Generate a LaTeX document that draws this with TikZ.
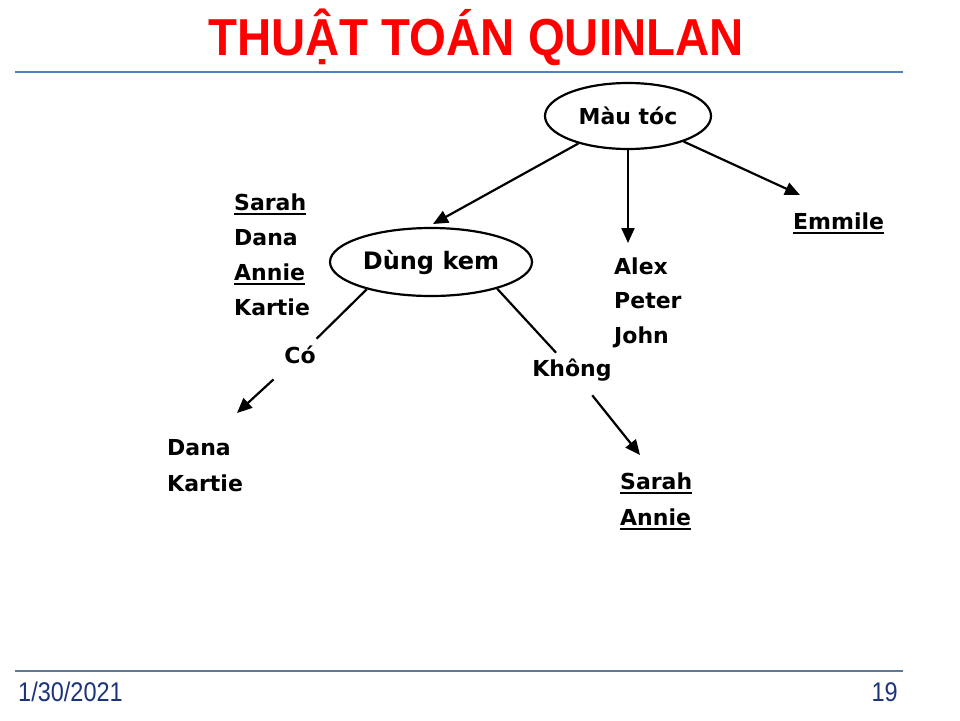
\documentclass[tikz,border=0pt]{standalone}
\usepackage{fontspec}
\setmainfont{Liberation Sans}
\newfontfamily\dejab{DejaVu Sans}[BoldFont={DejaVu Sans Bold}]
\usetikzlibrary{arrows.meta,shapes.geometric}
\definecolor{titlered}{RGB}{255,0,0}
\definecolor{topline}{RGB}{79,129,189}
\definecolor{botline}{RGB}{92,122,152}
\definecolor{footblue}{RGB}{28,52,122}
\tikzset{
  treetext/.style={font=\dejab\bfseries\fontsize{22}{26}\selectfont, inner sep=0pt},
  namenode/.style={treetext, anchor=base west},
  oval/.style={ellipse, draw, line width=2.2pt, treetext},
  conn/.style={line width=2.2pt},
  arr/.style={line width=2.2pt, -{Triangle[length=15pt,width=13pt]}},
  ul/.style={line width=2pt},
  rule/.style={line width=2.6pt},
}
\begin{document}
\begin{tikzpicture}[x=1pt,y=-1pt]
\useasboundingbox[fill=white] (0,0) rectangle (960,720);
% title
\node[text=titlered, font=\bfseries\fontsize{52}{60}\selectfont, inner sep=0pt] (title) at (476,37) {\scalebox{0.91}[1]{THUẬT TOÁN QUINLAN}};
\draw[rule, topline] (15,72) -- (903,72);
\draw[line width=2pt, botline] (15,671) -- (903,671);
\node[text=footblue, font=\fontsize{27}{30}\selectfont, inner sep=0pt, anchor=west] (date) at (18,692) {\scalebox{0.87}[1]{1/30/2021}};
\node[text=footblue, font=\fontsize{27}{30}\selectfont, inner sep=0pt, anchor=east] (page) at (898,692) {\scalebox{0.87}[1]{19}};

% ellipses
\node[oval, minimum width=166pt, minimum height=66pt] (mt) at (628,116) {Màu tóc};
\node[oval, minimum width=202pt, minimum height=68pt, font=\dejab\bfseries\fontsize{24}{28}\selectfont] (dk) at (431,262) {Dùng kem};

% left list
\node[namenode] (s1) at (234,210) {Sarah};
\node[namenode] (d1) at (234,245) {Dana};
\node[namenode] (a1) at (234,280) {Annie};
\node[namenode] (k1) at (234,315) {Kartie};
% centre list
\node[namenode] (al) at (614,274) {Alex};
\node[namenode] (pe) at (614,308) {Peter};
\node[namenode] (jo) at (614,343) {John};
% right
\node[namenode] (em) at (793,229) {Emmile};
% bottom left
\node[namenode] (d2) at (167,455) {Dana};
\node[namenode] (k2) at (167,491) {Kartie};
% bottom right
\node[namenode] (s2) at (620,489) {Sarah};
\node[namenode] (a2) at (620,525) {Annie};
% branch labels
\node[treetext, inner sep=3pt] (co) at (300,355) {Có};
\node[treetext, inner sep=3pt] (kh) at (572,370) {Không};

% underlines
\foreach \n in {s1,a1,em,s2,a2}
  \draw[ul] ([yshift=-3.5pt]\n.base west) -- ([yshift=-3.5pt]\n.base east);

% arrow tips
\coordinate (t1) at (433,224);
\coordinate (t2) at (628,243);
\coordinate (t3) at (800,195);
\coordinate (t4) at (237,413);
\coordinate (t5) at (640,455);

\draw[arr] (mt) -- (t1);
\draw[arr] (mt) -- (t2);
\draw[arr] (mt) -- (t3);
\draw[conn, shorten >=6pt] (dk.203) -- (co);
\draw[arr, shorten <=18pt] (co) -- (t4);
\draw[conn, shorten >=4pt] (dk.338) -- (kh);
\draw[arr, shorten <=14pt] (kh) -- (t5);
\end{tikzpicture}
\end{document}
